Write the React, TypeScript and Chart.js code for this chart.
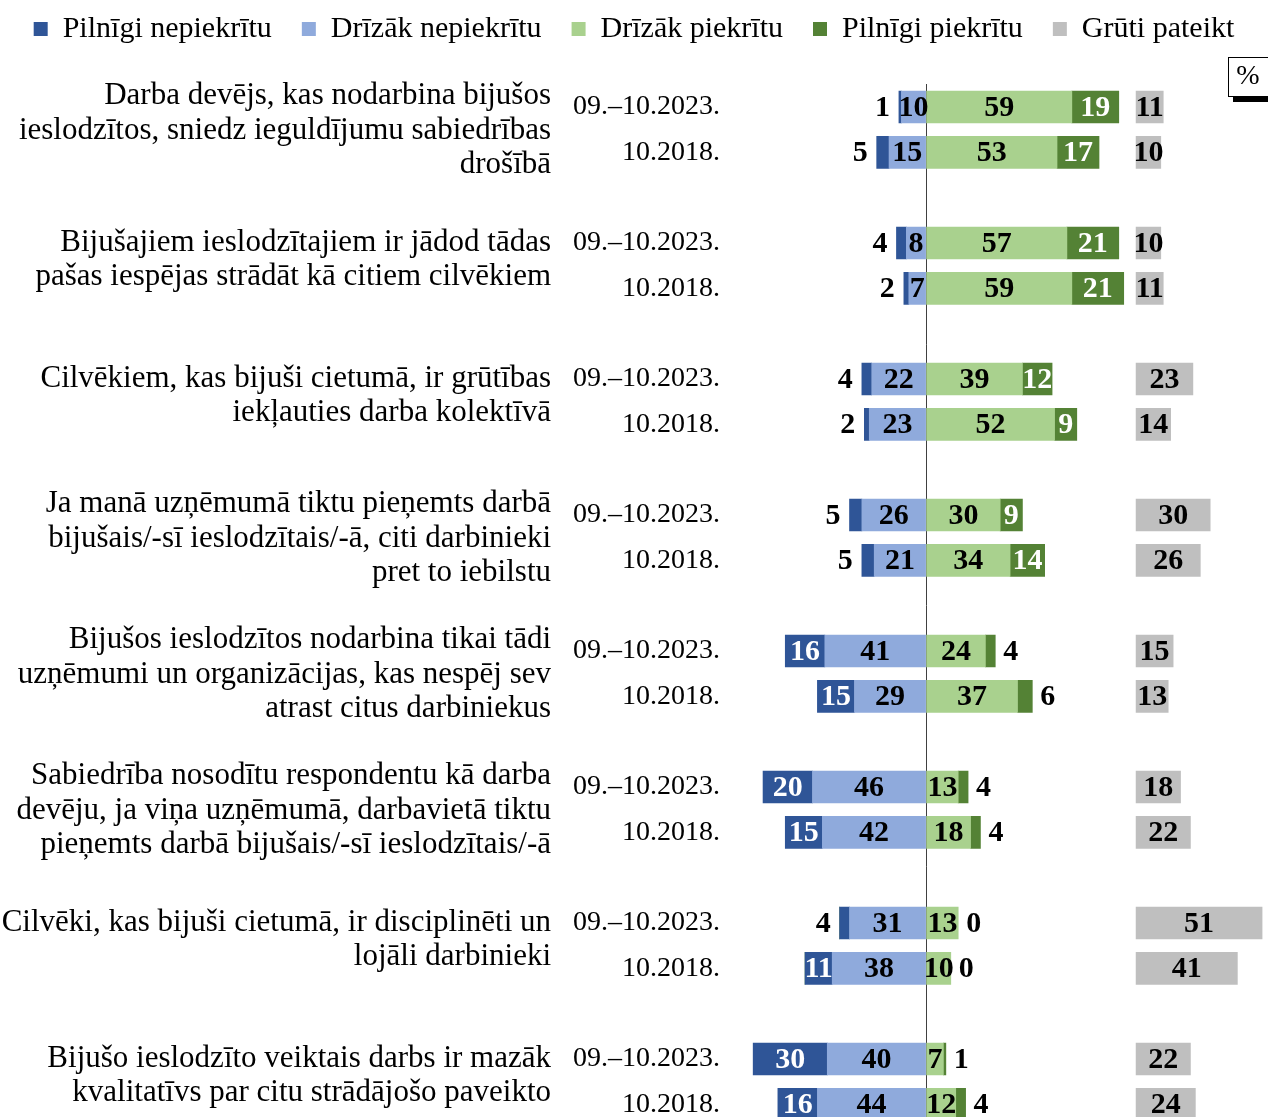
import React, { useEffect, useRef } from 'react';
import { Chart, registerables } from 'chart.js';

Chart.register(...registerables);

// ---------- data ----------
const questions: string[][] = [
  ['Darba devējs, kas nodarbina bijušos', 'ieslodzītos, sniedz ieguldījumu sabiedrības', 'drošībā'],
  ['Bijušajiem ieslodzītajiem ir jādod tādas', 'pašas iespējas strādāt kā citiem cilvēkiem'],
  ['Cilvēkiem, kas bijuši cietumā, ir grūtības', 'iekļauties darba kolektīvā'],
  ['Ja manā uzņēmumā tiktu pieņemts darbā', 'bijušais/-sī ieslodzītais/-ā, citi darbinieki', 'pret to iebilstu'],
  ['Bijušos ieslodzītos nodarbina tikai tādi', 'uzņēmumi un organizācijas, kas nespēj sev', 'atrast citus darbiniekus'],
  ['Sabiedrība nosodītu respondentu kā darba', 'devēju, ja viņa uzņēmumā, darbavietā tiktu', 'pieņemts darbā bijušais/-sī ieslodzītais/-ā'],
  ['Cilvēki, kas bijuši cietumā, ir disciplinēti un', 'lojāli darbinieki'],
  ['Bijušo ieslodzīto veiktais darbs ir mazāk', 'kvalitatīvs par citu strādājošo paveikto'],
];
const periods = ['09.–10.2023.', '10.2018.'];
const seriesNames = ['Pilnīgi nepiekrītu', 'Drīzāk nepiekrītu', 'Drīzāk piekrītu', 'Pilnīgi piekrītu', 'Grūti pateikt'];

const fullyDisagree2023 = [1, 4, 4, 5, 16, 20, 4, 30];
const fullyDisagree2018 = [5, 2, 2, 5, 15, 15, 11, 16];
const ratherDisagree2023 = [10, 8, 22, 26, 41, 46, 31, 40];
const ratherDisagree2018 = [15, 7, 23, 21, 29, 42, 38, 44];
const ratherAgree2023 = [59, 57, 39, 30, 24, 13, 13, 7];
const ratherAgree2018 = [53, 59, 52, 34, 37, 18, 10, 12];
const fullyAgree2023 = [19, 21, 12, 9, 4, 4, 0, 1];
const fullyAgree2018 = [17, 21, 9, 14, 6, 4, 0, 4];
const hardToSay2023 = [11, 10, 23, 30, 15, 18, 51, 22];
const hardToSay2018 = [10, 11, 14, 26, 13, 22, 41, 24];

// ---------- styles ----------
const FONT = '"Liberation Serif", "Times New Roman", serif';
const COLORS = ['#2F5597', '#8FAADC', '#A9D18E', '#548235', '#BFBFBF'];
const W = 1268;
const H = 1117;
const CANVAS_H = 1127; // last row is cut by the picture's bottom edge

// slots: 2023, 2018, gap (no gap after the last question)
function toSlots(a: number[], b: number[], sign: number): (number | null)[] {
  const out: (number | null)[] = [];
  questions.forEach((_, i) => {
    out.push(sign * a[i], sign * b[i]);
    if (i < questions.length - 1) out.push(null);
  });
  return out;
}
const slotLabels: string[] = [];
questions.forEach((_, i) => {
  slotLabels.push(periods[0], periods[1]);
  if (i < questions.length - 1) slotLabels.push('');
});

const labelPlugin = {
  id: 'barLabels',
  afterDatasetsDraw(chart: any) {
    const ctx = chart.ctx;
    ctx.save();
    ctx.font = `bold 30px ${FONT}`;
    ctx.textBaseline = 'middle';
    const lightPosIndex = chart.data.datasets.findIndex((d: any) => d.kind === 'lightPos');
    chart.data.datasets.forEach((ds: any, di: number) => {
      const meta = chart.getDatasetMeta(di);
      meta.data.forEach((bar: any, j: number) => {
        const raw = ds.data[j];
        if (raw === null || raw === undefined) return;
        const v = Math.abs(raw);
        const { x, base, y } = bar.getProps(['x', 'base', 'y'], true);
        const l = Math.min(x, base);
        let r = Math.max(x, base);
        const kind = ds.kind;
        if (kind === 'darkNeg' && v < 9) {
          ctx.textAlign = 'right';
          ctx.fillStyle = '#000';
          ctx.fillText(String(v), l - 9, y + 1);
        } else if (kind === 'darkPos' && v < 9) {
          const lp = chart.getDatasetMeta(lightPosIndex).data[j];
          if (lp) {
            const lx = lp.getProps(['x'], true).x;
            r = v === 0 ? lx : Math.max(r, lx);
          }
          ctx.textAlign = 'left';
          ctx.fillStyle = '#000';
          ctx.fillText(String(v), r + 8, y + 1);
        } else {
          ctx.textAlign = 'center';
          ctx.fillStyle = kind === 'darkNeg' || kind === 'darkPos' ? '#fff' : '#000';
          ctx.fillText(String(v), (l + r) / 2, y + 1);
        }
      });
    });
    ctx.restore();
  },
};

const sidePlugin = {
  id: 'sideText',
  afterDraw(chart: any) {
    const ctx = chart.ctx;
    const yScale = chart.scales.y;
    ctx.save();
    ctx.font = `31px ${FONT}`;
    ctx.fillStyle = '#000';
    ctx.textAlign = 'right';
    ctx.textBaseline = 'middle';
    const lh = 34.5;
    questions.forEach((lines, i) => {
      const y1 = yScale.getPixelForValue(3 * i);
      const y2 = yScale.getPixelForValue(3 * i + 1);
      const c = (y1 + y2) / 2 + (lines.length === 2 ? -6 : 1);
      const top = c - ((lines.length - 1) * lh) / 2;
      lines.forEach((t, k) => ctx.fillText(t, 551, top + k * lh));
    });
    // "%" box
    ctx.fillStyle = '#000';
    ctx.fillRect(1233, 96, 40, 6);
    ctx.fillStyle = '#fff';
    ctx.fillRect(1228.5, 57.5, 44, 39);
    ctx.strokeStyle = '#000';
    ctx.lineWidth = 1;
    ctx.strokeRect(1228.5, 57.5, 44, 39);
    ctx.fillStyle = '#000';
    ctx.textAlign = 'center';
    ctx.font = `28px ${FONT}`;
    ctx.fillText('%', 1248, 77);
    ctx.restore();
  },
};

export default function App() {
  const ref = useRef<HTMLCanvasElement>(null);
  useEffect(() => {
    if (!ref.current) return;
    const chart = new Chart(ref.current, {
      type: 'bar',
      data: {
        labels: slotLabels,
        datasets: [
          { label: seriesNames[1], kind: 'lightNeg', data: toSlots(ratherDisagree2023, ratherDisagree2018, -1), backgroundColor: COLORS[1], stack: 's', xAxisID: 'x' } as any,
          { label: seriesNames[0], kind: 'darkNeg', data: toSlots(fullyDisagree2023, fullyDisagree2018, -1), backgroundColor: COLORS[0], stack: 's', xAxisID: 'x' } as any,
          { label: seriesNames[2], kind: 'lightPos', data: toSlots(ratherAgree2023, ratherAgree2018, 1), backgroundColor: COLORS[2], stack: 's', xAxisID: 'x' } as any,
          { label: seriesNames[3], kind: 'darkPos', data: toSlots(fullyAgree2023, fullyAgree2018, 1), backgroundColor: COLORS[3], stack: 's', xAxisID: 'x' } as any,
          { label: seriesNames[4], kind: 'grey', data: toSlots(hardToSay2023, hardToSay2018, 1), backgroundColor: COLORS[4], stack: 's', xAxisID: 'x2' } as any,
        ],
      },
      options: {
        indexAxis: 'y',
        responsive: false,
        animation: false,
        devicePixelRatio: 1,
        layout: { padding: { top: -16, bottom: 0, left: 0, right: 0 } },
        datasets: { bar: { barThickness: 32, borderWidth: 0 } },
        scales: {
          x: {
            type: 'linear',
            position: 'top',
            stacked: true,
            min: -81.4,
            max: 138.4,
            z: 1,
            afterBuildTicks: (s: any) => { s.ticks = [{ value: 0 }]; },
            afterFit: (s: any) => { s.height = 30.3; },
            ticks: { display: false },
            border: { display: false },
            grid: { drawTicks: false, color: '#404040', lineWidth: 1 },
          },
          x2: {
            type: 'linear',
            display: false,
            stacked: true,
            min: -166.4,
            max: 53.4,
          },
          y: {
            type: 'category',
            stacked: true,
            afterFit: (s: any) => { s.width = 725; s.paddingTop = 0; s.paddingBottom = 0; },
            grid: { display: false, drawTicks: false },
            border: { display: false },
            ticks: {
              autoSkip: false,
              padding: 5,
              color: '#000',
              font: { family: FONT, size: 28 },
            },
          },
        },
        plugins: {
          tooltip: { enabled: false },
          legend: {
            position: 'top',
            align: 'center',
            labels: {
              boxWidth: 14,
              boxHeight: 14,
              padding: 30,
              color: '#000',
              font: { family: FONT, size: 30 },
              sort: (a: any, b: any) => seriesNames.indexOf(a.text) - seriesNames.indexOf(b.text),
            },
          },
        },
      } as any,
      plugins: [labelPlugin, sidePlugin],
    });
    return () => chart.destroy();
  }, []);
  return (
    <div style={{ position: 'absolute', left: 0, top: 0, width: W, height: H, overflow: 'hidden', background: '#fff' }}>
      <canvas ref={ref} width={W} height={CANVAS_H} style={{ display: 'block' }} />
    </div>
  );
}
